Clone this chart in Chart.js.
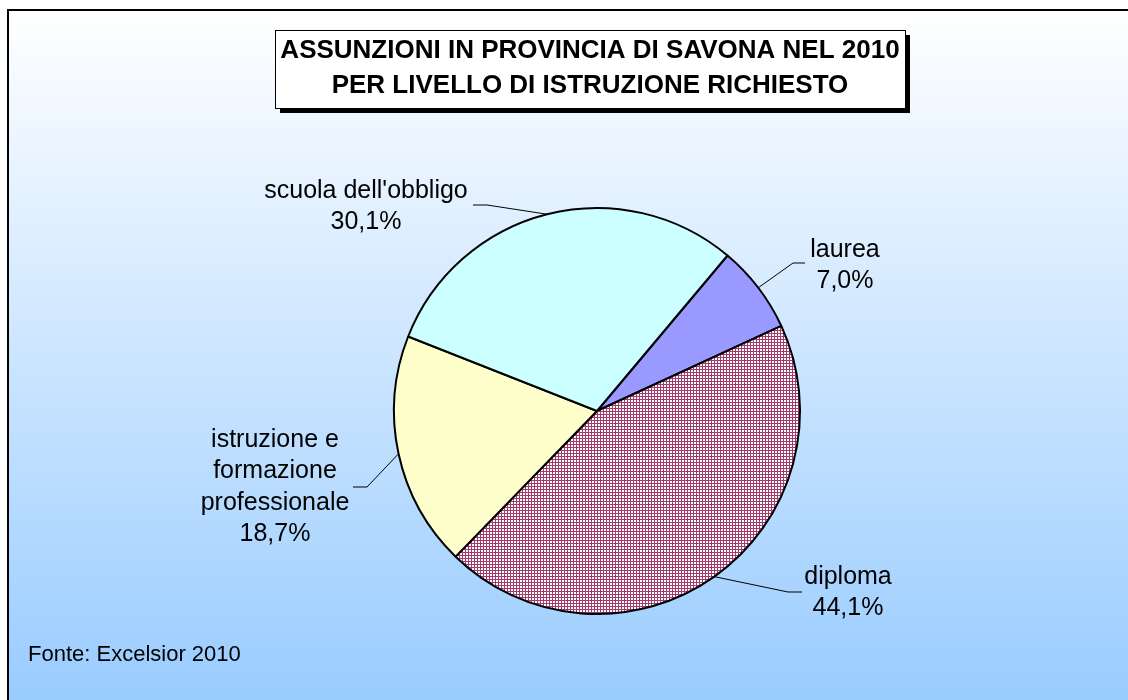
<!DOCTYPE html>
<html>
<head>
<meta charset="utf-8">
<script src="https://cdn.jsdelivr.net/npm/chart.js@4.4.1/dist/chart.umd.min.js"></script>
<style>
    html, body { margin: 0; padding: 0; background: #fff; }
    canvas { display: block; }
</style>
</head>
<body>
<canvas id="assunzioniChart" width="1128" height="700"></canvas>
<script>
const categorie = ['laurea', 'diploma', ['istruzione e', 'formazione', 'professionale'], "scuola dell'obbligo"];
const quote = [7.0, 44.1, 18.7, 30.1];
const titolo = ['ASSUNZIONI IN PROVINCIA DI SAVONA NEL 2010', 'PER LIVELLO DI ISTRUZIONE RICHIESTO'];
const fonte = 'Fonte: Excelsior 2010';

const FONT = '"Liberation Sans", Arial, sans-serif';

// retino a quadretti per "diploma"
function retino() {
    const tile = document.createElement('canvas');
    tile.width = 3; tile.height = 3;
    const t = tile.getContext('2d');
    t.fillStyle = '#ffffff';
    t.fillRect(0, 0, 3, 3);
    t.fillStyle = '#a33a6c';
    t.fillRect(0, 0, 3, 1);
    t.fillRect(0, 0, 1, 3);
    return t.createPattern(tile, 'repeat');
}

// posizione delle etichette: centro testo, gomito e fine della linea guida
const etichette = [
    { x: 845, y: 250, gomito: [793, 263], fine: [805, 263] },
    { x: 848, y: 577, gomito: [788, 592], fine: [802, 592] },
    { x: 275, y: 440, gomito: [367, 487], fine: [353, 487] },
    { x: 366, y: 191, gomito: [487, 205], fine: [473, 205] }
];

const sfondo = {
    id: 'sfondo',
    beforeDraw(chart) {
        const ctx = chart.ctx;
        ctx.save();
        ctx.fillStyle = '#ffffff';
        ctx.fillRect(0, 0, chart.width, chart.height);
        const g = ctx.createLinearGradient(0, 10, 0, chart.height);
        g.addColorStop(0, '#ffffff');
        g.addColorStop(1, '#99ccff');
        ctx.fillStyle = g;
        ctx.fillRect(8, 10, chart.width, chart.height);
        ctx.strokeStyle = '#000';
        ctx.lineWidth = 2;
        ctx.beginPath();
        ctx.moveTo(8, chart.height);
        ctx.lineTo(8, 10);
        ctx.lineTo(chart.width, 10);
        ctx.stroke();
        ctx.restore();
    }
};

const testi = {
    id: 'testi',
    afterDatasetsDraw(chart) {
        const ctx = chart.ctx;
        const arcs = chart.getDatasetMeta(0).data;
        ctx.save();
        ctx.font = '25px ' + FONT;
        ctx.textAlign = 'center';
        ctx.textBaseline = 'middle';
        arcs.forEach((arc, i) => {
            const p = arc.getProps(['x', 'y', 'startAngle', 'endAngle', 'outerRadius'], true);
            const mid = (p.startAngle + p.endAngle) / 2;
            const e = etichette[i];
            ctx.strokeStyle = '#000';
            ctx.lineWidth = 1;
            ctx.beginPath();
            ctx.moveTo(p.x + Math.cos(mid) * p.outerRadius, p.y + Math.sin(mid) * p.outerRadius);
            ctx.lineTo(e.gomito[0], e.gomito[1]);
            ctx.lineTo(e.fine[0], e.fine[1]);
            ctx.stroke();

            const righe = [].concat(categorie[i], quote[i].toFixed(1).replace('.', ',') + '%');
            ctx.fillStyle = '#000';
            righe.forEach((r, k) => ctx.fillText(r, e.x, e.y + k * 31.5));
        });

        // fonte
        ctx.textAlign = 'left';
        ctx.font = '22px ' + FONT;
        ctx.fillText(fonte, 28, 655);

        // riquadro del titolo con ombra
        ctx.fillStyle = '#000';
        ctx.fillRect(280, 35, 630, 78);
        ctx.fillStyle = '#fff';
        ctx.fillRect(275, 30, 630, 78);
        ctx.strokeStyle = '#000';
        ctx.lineWidth = 1;
        ctx.strokeRect(275.5, 30.5, 630, 78);
        ctx.fillStyle = '#000';
        ctx.textAlign = 'center';
        ctx.font = 'bold 26px ' + FONT;
        ctx.fillText(titolo[0], 590, 51);
        ctx.fillText(titolo[1], 590, 86);
        ctx.restore();
    }
};

new Chart(document.getElementById('assunzioniChart'), {
    type: 'pie',
    data: {
        labels: categorie,
        datasets: [{
            data: quote,
            backgroundColor: ['#9999ff', retino(), '#ffffcc', '#ccffff'],
            borderColor: '#000',
            borderWidth: 2,
            hoverOffset: 0
        }]
    },
    options: {
        responsive: false,
        animation: false,
        rotation: 40,
        radius: 203,
        layout: { padding: { left: 66, right: 0, top: 122, bottom: 0 } },
        plugins: {
            legend: { display: false },
            tooltip: { enabled: false }
        }
    },
    plugins: [sfondo, testi]
});
</script>
</body>
</html>
